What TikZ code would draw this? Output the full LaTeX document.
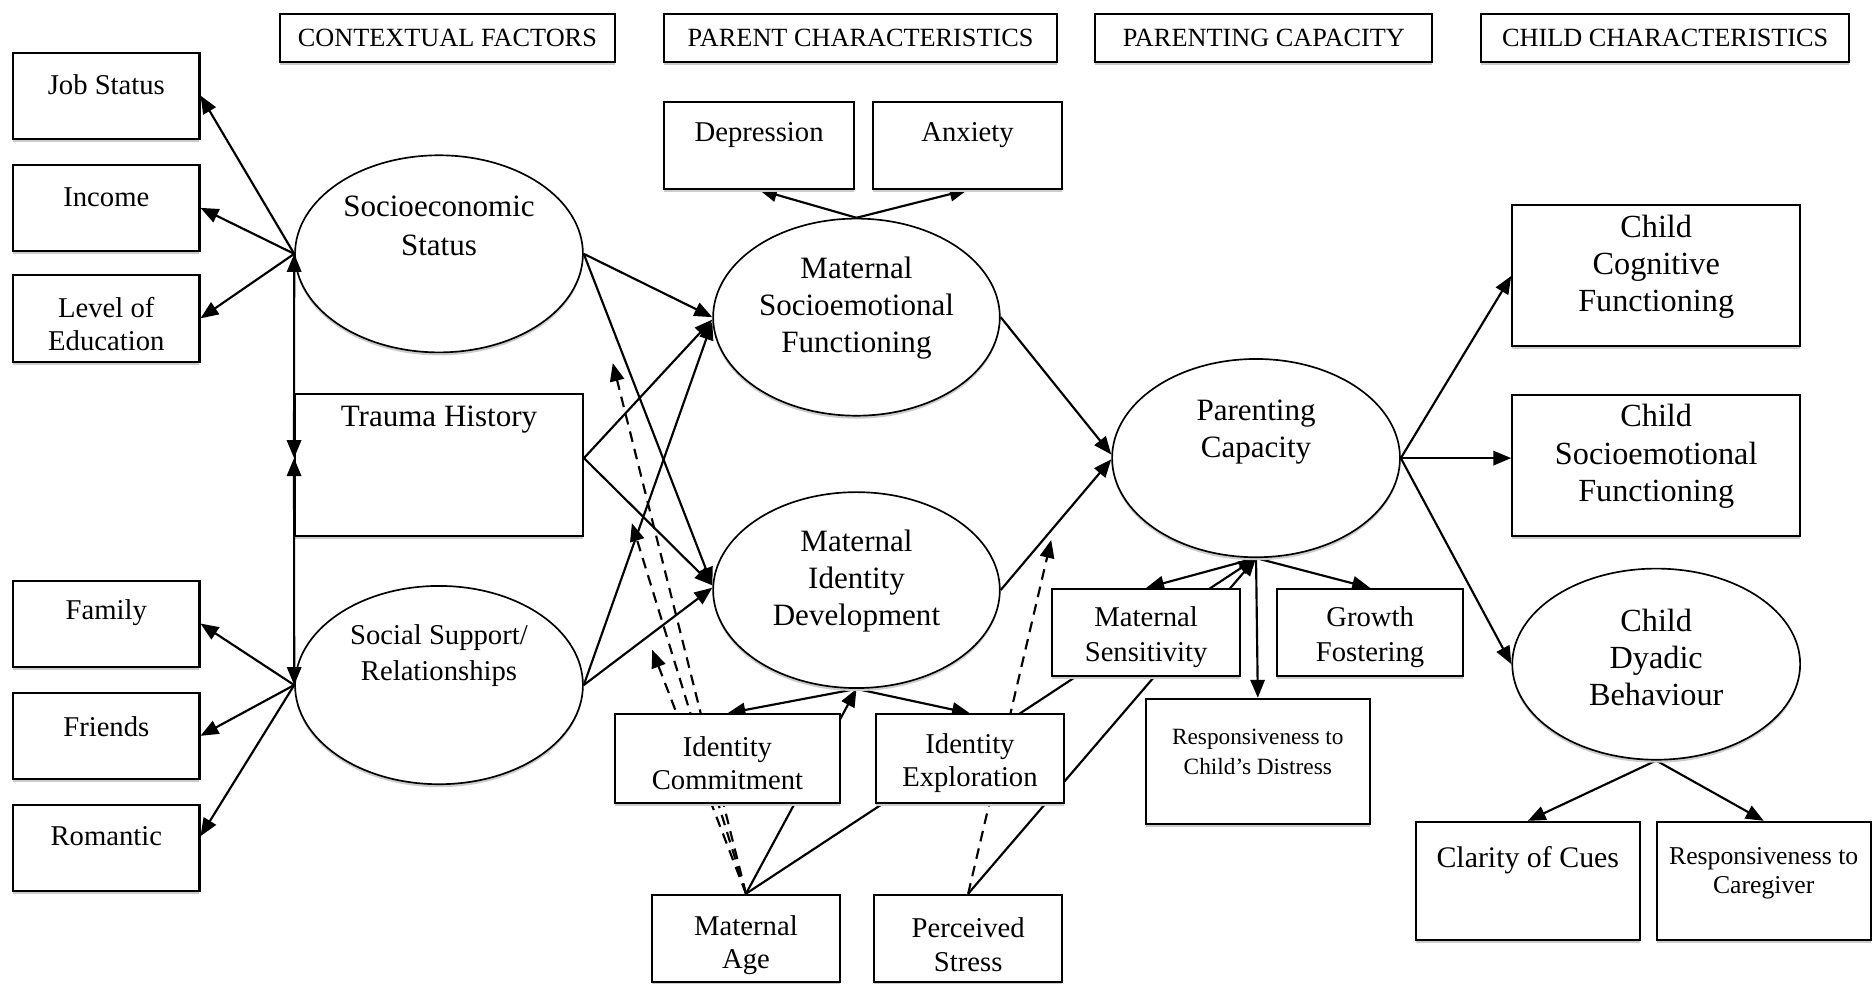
\documentclass[tikz,border=0pt]{standalone}
\usepackage{fontspec}
\setmainfont{Liberation Serif}
\usetikzlibrary{arrows.meta,shadows,shapes.geometric,calc}
\pgfdeclarelayer{bg}
\pgfsetlayers{bg,main}
\newcommand{\myfs}[2]{\fontsize{#1}{#2}\selectfont}
\tikzset{
  shd/.style={drop shadow={shadow xshift=0pt,shadow yshift=-2.5pt,fill=black!20,opacity=1}},
  bx/.style={draw,line width=1.7pt,fill=white,rectangle,inner sep=0pt,shd},
  el/.style={draw,line width=1.4pt,fill=white,ellipse,inner sep=0pt,shd},
  tx/.style={align=center,inner sep=0pt,anchor=center},
  con/.style={line width=1.8pt,-{Triangle[length=15pt,width=12pt]}},
  dcon/.style={con,dash pattern=on 9pt off 6pt},
  bcon/.style={line width=1.8pt,{Triangle[length=15pt,width=12pt]}-{Triangle[length=15pt,width=12pt]}},
}
\begin{document}
\begin{tikzpicture}[x=1pt,y=-1pt]
\useasboundingbox (0,0) rectangle (1568,823);

% headers
\node[bx,minimum width=281pt,minimum height=40pt] (hcf) at (374.5,32) {};
\node[tx,font=\myfs{22}{26}] (hcf-t) at (hcf.center) {CONTEXTUAL FACTORS};
\node[bx,minimum width=329pt,minimum height=40pt] (hpc) at (720.5,32) {};
\node[tx,font=\myfs{22}{26}] (hpc-t) at (hpc.center) {PARENT CHARACTERISTICS};
\node[bx,minimum width=282pt,minimum height=40pt] (hpcap) at (1058,32) {};
\node[tx,font=\myfs{22}{26}] (hpcap-t) at (hpcap.center) {PARENTING CAPACITY};
\node[bx,minimum width=308pt,minimum height=40pt] (hcc) at (1394,32) {};
\node[tx,font=\myfs{22}{26}] (hcc-t) at (hcc.center) {CHILD CHARACTERISTICS};

% left boxes
\node[bx,minimum width=156pt,minimum height=72pt] (job) at (89,80) {};
\node[tx,font=\myfs{24}{28}] (job-t) at ([yshift=9pt]job.center) {Job Status};
\node[bx,minimum width=156pt,minimum height=72pt] (inc) at (89,174) {};
\node[tx,font=\myfs{24}{28}] (inc-t) at ([yshift=9pt]inc.center) {Income};
\node[bx,minimum width=156pt,minimum height=73pt] (edu) at (89,266.5) {};
\node[tx,font=\myfs{24}{28}] (edu-t) at ([yshift=-5pt]edu.center) {Level of\\Education};
\node[bx,minimum width=156pt,minimum height=72pt] (fam) at (89,522) {};
\node[tx,font=\myfs{24}{28}] (fam-t) at ([yshift=9pt]fam.center) {Family};
\node[bx,minimum width=156pt,minimum height=72pt] (fri) at (89,616) {};
\node[tx,font=\myfs{24}{28}] (fri-t) at ([yshift=8pt]fri.center) {Friends};
\node[bx,minimum width=156pt,minimum height=72pt] (rom) at (89,710) {};
\node[tx,font=\myfs{24}{28}] (rom-t) at ([yshift=10pt]rom.center) {Romantic};

% contextual latent
\node[el,minimum width=241pt,minimum height=165pt] (ses) at (367.5,212.5) {};
\node[tx,font=\myfs{26}{32}] (ses-t) at ([yshift=23.5pt]ses.center) {Socioeconomic\\Status};
\node[bx,minimum width=241pt,minimum height=119pt] (trauma) at (367.5,389.5) {};
\node[tx,font=\myfs{26}{31}] (trauma-t) at ([yshift=38.5pt]trauma.center) {Trauma History};
\node[el,minimum width=241pt,minimum height=166pt] (ss) at (367.5,573.5) {};
\node[tx,font=\myfs{24}{30}] (ss-t) at ([yshift=24.5pt]ss.center) {Social Support/\\Relationships};

% parent characteristics
\node[bx,minimum width=159pt,minimum height=73pt] (dep) at (635.5,121.5) {};
\node[tx,font=\myfs{24}{28}] (dep-t) at ([yshift=8.5pt]dep.center) {Depression};
\node[bx,minimum width=158pt,minimum height=73pt] (anx) at (810,121.5) {};
\node[tx,font=\myfs{24}{28}] (anx-t) at ([yshift=8.5pt]anx.center) {Anxiety};
\node[el,minimum width=240pt,minimum height=165pt] (msf) at (717,265.5) {};
\node[tx,font=\myfs{26}{31}] (msf-t) at ([yshift=7.5pt]msf.center) {Maternal\\Socioemotional\\Functioning};
\node[el,minimum width=240pt,minimum height=164pt] (mid) at (717,494) {};
\node[tx,font=\myfs{26}{31}] (mid-t) at ([yshift=7.5pt]mid.center) {Maternal\\Identity\\Development};
\node[bx,minimum width=188pt,minimum height=74pt] (ic) at (609,635) {};
\node[tx,font=\myfs{24}{28}] (ic-t) at ([yshift=-4pt]ic.center) {Identity\\Commitment};
\node[bx,minimum width=158pt,minimum height=74pt] (ie) at (812,635) {};
\node[tx,font=\myfs{24}{28}] (ie-t) at ([yshift=-4pt]ie.center) {Identity\\Exploration};
\node[bx,minimum width=157pt,minimum height=73pt] (ma) at (624.5,785.5) {};
\node[tx,font=\myfs{24}{28}] (ma-t) at ([yshift=-5.5pt]ma.center) {Maternal\\Age};
\node[bx,minimum width=157pt,minimum height=73pt] (ps) at (810.5,785.5) {};
\node[tx,font=\myfs{24}{28}] (ps-t) at ([yshift=-5.5pt]ps.center) {Perceived\\Stress};

% parenting capacity
\node[el,minimum width=241pt,minimum height=166pt] (pc) at (1051.5,383.5) {};
\node[tx,font=\myfs{26}{31}] (pc-t) at ([yshift=22pt]pc.center) {Parenting\\Capacity};
\node[bx,minimum width=157pt,minimum height=73pt] (ms) at (959.5,529.5) {};
\node[tx,font=\myfs{24}{29}] (ms-t) at ([yshift=-4pt]ms.center) {Maternal\\Sensitivity};
\node[bx,minimum width=156pt,minimum height=73pt] (gf) at (1147,529.5) {};
\node[tx,font=\myfs{24}{29}] (gf-t) at ([yshift=-4pt]gf.center) {Growth\\Fostering};
\node[bx,minimum width=188pt,minimum height=105pt] (rcd) at (1053,637.5) {};
\node[tx,font=\myfs{19.5}{25}] (rcd-t) at ([yshift=8pt]rcd.center) {Responsiveness to\\Child’s Distress};

% child characteristics
\node[bx,minimum width=241pt,minimum height=118pt] (ccf) at (1386.5,231) {};
\node[tx,font=\myfs{27}{31}] (ccf-t) at ([yshift=8pt]ccf.center) {Child\\Cognitive\\Functioning};
\node[bx,minimum width=241pt,minimum height=118pt] (csf) at (1386.5,390) {};
\node[tx,font=\myfs{27}{31}] (csf-t) at ([yshift=8pt]csf.center) {Child\\Socioemotional\\Functioning};
\node[el,minimum width=241pt,minimum height=160pt] (cdb) at (1386.5,556) {};
\node[tx,font=\myfs{27}{31}] (cdb-t) at ([yshift=6pt]cdb.center) {Child\\Dyadic\\Behaviour};
\node[bx,minimum width=188pt,minimum height=99pt] (clr) at (1279,737.5) {};
\node[tx,font=\myfs{25}{29}] (clr-t) at ([yshift=17.5pt]clr.center) {Clarity of Cues};
\node[bx,minimum width=179pt,minimum height=99pt] (rcg) at (1476.5,737.5) {};
\node[tx,font=\myfs{21.5}{25}] (rcg-t) at ([yshift=6.5pt]rcg.center) {Responsiveness to\\Caregiver};

\coordinate (tw) at ([yshift=6pt]trauma.west);
\coordinate (te) at ([yshift=6pt]trauma.east);
\coordinate (d1) at (513,304);
\coordinate (d2) at (529,438);
\coordinate (d3) at (546,544);
\coordinate (d4) at (880,452);

\begin{pgfonlayer}{bg}
\draw[con] (ses.west) -- (job.east);
\draw[con] (ses.west) -- (inc.east);
\draw[con] (ses.west) -- (edu.east);
\draw[con] (ss.west) -- (fam.east);
\draw[con] (ss.west) -- (fri.east);
\draw[con] (ss.west) -- ([yshift=10pt]rom.east);

\draw[con] (ses.east) -- (msf.west);
\draw[con] (ses.east) -- ([yshift=4pt]mid.west);
\draw[con] (te) -- ([yshift=-2pt]msf.west);
\draw[con] (te) -- ([yshift=4pt]mid.west);
\draw[con] (ss.east) -- ([yshift=-4pt]msf.west);
\draw[con] (ss.east) -- ([yshift=2pt]mid.west);

\draw[con] (msf.north) -- (dep.south);
\draw[con] (msf.north) -- (anx.south);
\draw[con] (msf.east) -- ([yshift=3pt]pc.west);
\draw[con] (mid.east) -- ([yshift=-1pt]pc.west);
\draw[con] (mid.south) -- (ic.north);
\draw[con] (mid.south) -- (ie.north);
\draw[con] (ma.north) -- (mid.south);
\draw[con] (ma.north) -- (pc.south);
\draw[con] (ps.north) -- (pc.south);

\draw[dcon] (ma.north) -- (d1);
\draw[dcon] (ma.north) -- (d2);
\draw[dcon] (ma.north) -- (d3);
\draw[dcon] (ps.north) -- (d4);

\draw[con] (pc.south) -- (ms.north);
\draw[con] (pc.south) -- (gf.north);
\draw[con] (pc.south) -- (rcd.north);
\draw[con] (pc.east) -- (ccf.west);
\draw[con] (pc.east) -- ([yshift=6.5pt]csf.west);
\draw[con] (pc.east) -- (cdb.west);
\draw[con] (cdb.south) -- (clr.north);
\draw[con] (cdb.south) -- (rcg.north);
\end{pgfonlayer}

\draw[bcon] (ses.west) -- (tw);
\draw[bcon] (tw) -- (ss.west);
\end{tikzpicture}
\end{document}
